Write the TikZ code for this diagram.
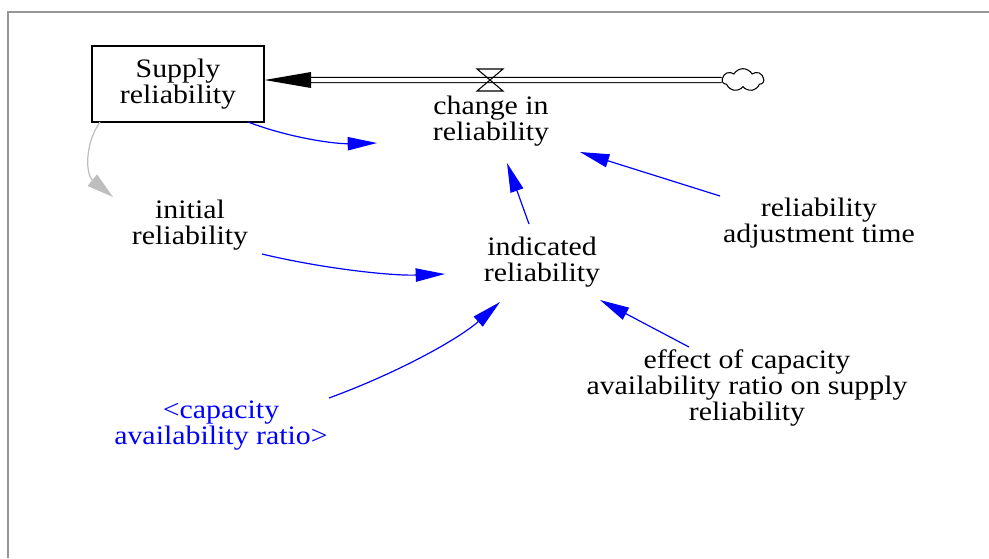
\documentclass[tikz,border=0pt]{standalone}
\usepackage{fontspec}
\setmainfont[FakeStretch=1.12]{Liberation Serif}
\usetikzlibrary{arrows.meta,shapes.symbols,calc}
\definecolor{linkblue}{RGB}{0,0,255}
\definecolor{shadowgray}{RGB}{190,190,190}
\definecolor{framegray}{RGB}{150,150,150}
\begin{document}
\begin{tikzpicture}[x=0.75pt,y=-0.75pt,
  lbl/.style={align=center,font=\fontsize{20}{19.5}\selectfont,inner sep=0pt},
  stockbox/.style={lbl,draw=black,line width=0.9pt,minimum width=129pt,minimum height=57pt},
  link/.style={draw=linkblue,line width=0.9pt,-{Triangle[length=22pt,width=10pt]}},
  shadowlink/.style={draw=shadowgray,line width=0.9pt,-{Triangle[length=20pt,width=11pt]}},
  pipe/.style={draw=black,line width=0.8pt,double=white,double distance=3pt}]
\useasboundingbox (0,0) rectangle (989,558);
\draw[framegray,line width=0.8pt] (8,558) -- (8,12) -- (989,12);

\node[stockbox] (stock) at (178,84) {Supply\\reliability};
\node[lbl] (change) at (491,121) {change in\\reliability};
\node[lbl] (initial) at (190,225) {initial\\reliability};
\node[lbl] (indicated) at (542,262) {indicated\\reliability};
\node[lbl] (adj) at (819,223) {reliability\\adjustment time};
\node[lbl] (effect) at (747,388) {effect of capacity\\availability ratio on supply\\reliability};
\node[lbl,text=linkblue] (cap) at (221,426) {<capacity\\availability ratio>};

% flow pipe
\node[cloud,draw,line width=0.8pt,cloud puffs=7,cloud puff arc=120,aspect=2,minimum width=31pt,minimum height=17pt,inner sep=0pt] (cloud) at (743,80) {};
\coordinate (valve) at (490,80);
\coordinate (headbase) at (311,80);
\draw[pipe] (cloud.west) -- (headbase);
\fill[black] (stock.east |- valve) -- ($(headbase)+(0,-8)$) -- ($(headbase)+(0,8)$) -- cycle;
\draw[line width=0.8pt,fill=none] ($(valve)+(-13,-11)$) -- ($(valve)+(13,-11)$) -- ($(valve)+(-13,11)$) -- ($(valve)+(13,11)$) -- cycle;

% links
\draw[link] ($(stock)+(70,38)$) .. controls (290,138) and (335,144) .. ($(change)+(-114,22)$);
\draw[link] ($(initial)+(72,29)$) .. controls (320,268) and (390,276) .. ($(indicated)+(-97,12)$);
\draw[link] ($(indicated)+(-13,-38)$) -- ($(change)+(16,42)$);
\draw[link] ($(adj)+(-99,-27)$) -- ($(change)+(89,31)$);
\draw[link] ($(cap)+(108,-28)$) .. controls (400,372) and (460,338) .. ($(indicated)+(-42,40)$);
\draw[link] ($(effect)+(-58,-41)$) -- ($(indicated)+(58,38)$);
\draw[shadowlink] ($(stock)+(-78,38)$) .. controls (84,145) and (86,175) .. ($(initial)+(-77,-28)$);
\end{tikzpicture}
\end{document}
